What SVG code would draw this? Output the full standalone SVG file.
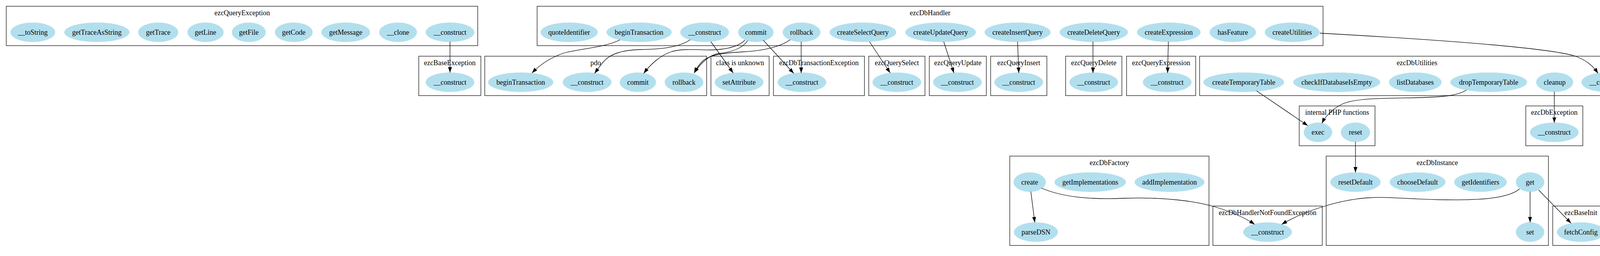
<svg xmlns="http://www.w3.org/2000/svg" width="4199" height="656" viewBox="0 0 4199 656">
<style>
.cl{fill:none;stroke:#222;stroke-width:1.4}
.n{fill:#b2dfee;stroke:#b2dfee;stroke-width:1}
text{font-family:"Liberation Serif","Times New Roman",serif;font-size:18px;text-anchor:middle;fill:#000}
.e{fill:none;stroke:#000;stroke-width:1.3;marker-end:url(#arr)}
</style>
<defs>
<marker id="arr" markerUnits="userSpaceOnUse" markerWidth="14" markerHeight="10" refX="14" refY="5" orient="auto">
<path d="M0,0 L14,5 L0,10 z" fill="#000"/>
</marker>
</defs>
<rect width="4199" height="656" fill="#fff"/>

<g id="ezcQueryException">
<rect class="cl" x="16" y="16" width="1207" height="101"/>
<text x="620" y="38.7">ezcQueryException</text>
<ellipse class="n" cx="84" cy="82.7" rx="57" ry="24.5"/><text x="84" y="88.7">__toString</text>
<ellipse class="n" cx="248" cy="82.7" rx="83" ry="24.5"/><text x="248" y="88.7">getTraceAsString</text>
<ellipse class="n" cx="405" cy="82.7" rx="51" ry="24.5"/><text x="405" y="88.7">getTrace</text>
<ellipse class="n" cx="526" cy="82.7" rx="46" ry="24.5"/><text x="526" y="88.7">getLine</text>
<ellipse class="n" cx="637" cy="82.7" rx="43" ry="24.5"/><text x="637" y="88.7">getFile</text>
<ellipse class="n" cx="752" cy="82.7" rx="48" ry="24.5"/><text x="752" y="88.7">getCode</text>
<ellipse class="n" cx="885" cy="82.7" rx="62" ry="24.5"/><text x="885" y="88.7">getMessage</text>
<ellipse class="n" cx="1019" cy="82.7" rx="48" ry="24.5"/><text x="1019" y="88.7">__clone</text>
<ellipse class="n" cx="1152" cy="82.7" rx="62" ry="24.5"/><text x="1152" y="88.7">__construct</text>
</g>

<g id="ezcDbHandler">
<rect class="cl" x="1375" y="16" width="2012" height="101"/>
<text x="2381" y="38.7">ezcDbHandler</text>
<ellipse class="n" cx="1457" cy="82.7" rx="73" ry="24.5"/><text x="1457" y="88.7">quoteIdentifier</text>
<ellipse class="n" cx="1636" cy="82.7" rx="83" ry="24.5"/><text x="1636" y="88.7">beginTransaction</text>
<ellipse class="n" cx="1804" cy="82.7" rx="62" ry="24.5"/><text x="1804" y="88.7">__construct</text>
<ellipse class="n" cx="1935" cy="82.7" rx="45" ry="24.5"/><text x="1935" y="88.7">commit</text>
<ellipse class="n" cx="2052" cy="82.7" rx="48" ry="24.5"/><text x="2052" y="88.7">rollback</text>
<ellipse class="n" cx="2209" cy="82.7" rx="85" ry="24.5"/><text x="2209" y="88.7">createSelectQuery</text>
<ellipse class="n" cx="2408" cy="82.7" rx="90" ry="24.5"/><text x="2408" y="88.7">createUpdateQuery</text>
<ellipse class="n" cx="2605" cy="82.7" rx="84" ry="24.5"/><text x="2605" y="88.7">createInsertQuery</text>
<ellipse class="n" cx="2800" cy="82.7" rx="87" ry="24.5"/><text x="2800" y="88.7">createDeleteQuery</text>
<ellipse class="n" cx="2992" cy="82.7" rx="81" ry="24.5"/><text x="2992" y="88.7">createExpression</text>
<ellipse class="n" cx="3156" cy="82.7" rx="59" ry="24.5"/><text x="3156" y="88.7">hasFeature</text>
<ellipse class="n" cx="3308" cy="82.7" rx="70" ry="24.5"/><text x="3308" y="88.7">createUtilities</text>
</g>

<g id="ezcBaseException">
<rect class="cl" x="1072" y="144" width="159" height="101"/>
<text x="1151.5" y="166.7">ezcBaseException</text>
<ellipse class="n" cx="1152" cy="210.7" rx="62" ry="24.5"/><text x="1152" y="216.7">__construct</text>
</g>

<g id="pdo">
<rect class="cl" x="1241" y="144" width="568" height="101"/>
<text x="1525" y="166.7">pdo</text>
<ellipse class="n" cx="1333" cy="210.7" rx="83" ry="24.5"/><text x="1333" y="216.7">beginTransaction</text>
<ellipse class="n" cx="1503" cy="210.7" rx="62" ry="24.5"/><text x="1503" y="216.7">__construct</text>
<ellipse class="n" cx="1633" cy="210.7" rx="46" ry="24.5"/><text x="1633" y="216.7">commit</text>
<ellipse class="n" cx="1751" cy="210.7" rx="49" ry="24.5"/><text x="1751" y="216.7">rollback</text>
</g>

<g id="classIsUnknown">
<rect class="cl" x="1820" y="144" width="149" height="101"/>
<text x="1894.5" y="166.7">class is unknown</text>
<ellipse class="n" cx="1892" cy="210.7" rx="62" ry="24.5"/><text x="1892" y="216.7">setAttribute</text>
</g>

<g id="ezcDbTransactionException">
<rect class="cl" x="1980" y="144" width="233" height="101"/>
<text x="2096.5" y="166.7">ezcDbTransactionException</text>
<ellipse class="n" cx="2053" cy="210.7" rx="62" ry="24.5"/><text x="2053" y="216.7">__construct</text>
</g>

<g id="ezcQuerySelect">
<rect class="cl" x="2224" y="144" width="144" height="101"/>
<text x="2296" y="166.7">ezcQuerySelect</text>
<ellipse class="n" cx="2296" cy="210.7" rx="62" ry="24.5"/><text x="2296" y="216.7">__construct</text>
</g>

<g id="ezcQueryUpdate">
<rect class="cl" x="2379" y="144" width="146" height="101"/>
<text x="2452" y="166.7">ezcQueryUpdate</text>
<ellipse class="n" cx="2451" cy="210.7" rx="62" ry="24.5"/><text x="2451" y="216.7">__construct</text>
</g>

<g id="ezcQueryInsert">
<rect class="cl" x="2536" y="144" width="144" height="101"/>
<text x="2608" y="166.7">ezcQueryInsert</text>
<ellipse class="n" cx="2608" cy="210.7" rx="62" ry="24.5"/><text x="2608" y="216.7">__construct</text>
</g>

<g id="ezcQueryDelete">
<rect class="cl" x="2728" y="144" width="144" height="101"/>
<text x="2800" y="166.7">ezcQueryDelete</text>
<ellipse class="n" cx="2800" cy="210.7" rx="62" ry="24.5"/><text x="2800" y="216.7">__construct</text>
</g>

<g id="ezcQueryExpression">
<rect class="cl" x="2884" y="144" width="177" height="101"/>
<text x="2972.5" y="166.7">ezcQueryExpression</text>
<ellipse class="n" cx="2988" cy="210.7" rx="62" ry="24.5"/><text x="2988" y="216.7">__construct</text>
</g>

<g id="ezcDbUtilities">
<rect class="cl" x="3071" y="144" width="1113" height="101"/>
<text x="3627.5" y="166.7">ezcDbUtilities</text>
<ellipse class="n" cx="3184" cy="210.7" rx="103" ry="24.5"/><text x="3184" y="216.7">createTemporaryTable</text>
<ellipse class="n" cx="3422" cy="210.7" rx="111" ry="24.5"/><text x="3422" y="216.7">checkIfDatabaseIsEmpty</text>
<ellipse class="n" cx="3623" cy="210.7" rx="67" ry="24.5"/><text x="3623" y="216.7">listDatabases</text>
<ellipse class="n" cx="3811" cy="210.7" rx="98" ry="24.5"/><text x="3811" y="216.7">dropTemporaryTable</text>
<ellipse class="n" cx="3980" cy="210.7" rx="47" ry="24.5"/><text x="3980" y="216.7">cleanup</text>
<ellipse class="n" cx="4111" cy="210.7" rx="62" ry="24.5"/><text x="4111" y="216.7">__construct</text>
</g>

<g id="internalPHPFunctions">
<rect class="cl" x="3326" y="271.5" width="194" height="102"/>
<text x="3423" y="294.2">internal PHP functions</text>
<ellipse class="n" cx="3374" cy="339" rx="36" ry="24.5"/><text x="3374" y="345">exec</text>
<ellipse class="n" cx="3470" cy="339" rx="37" ry="24.5"/><text x="3470" y="345">reset</text>
</g>

<g id="ezcDbException">
<rect class="cl" x="3906" y="271.5" width="146" height="102"/>
<text x="3979" y="294.2">ezcDbException</text>
<ellipse class="n" cx="3979" cy="339" rx="62" ry="24.5"/><text x="3979" y="345">__construct</text>
</g>

<g id="ezcDbFactory">
<rect class="cl" x="2585" y="400" width="510" height="229"/>
<text x="2840" y="422.7">ezcDbFactory</text>
<ellipse class="n" cx="2636" cy="466.7" rx="41" ry="24.5"/><text x="2636" y="472.7">create</text>
<ellipse class="n" cx="2791" cy="466.7" rx="91" ry="24.5"/><text x="2791" y="472.7">getImplementations</text>
<ellipse class="n" cx="2994" cy="466.7" rx="89" ry="24.5"/><text x="2994" y="472.7">addImplementation</text>
<ellipse class="n" cx="2652" cy="594.7" rx="56" ry="24.5"/><text x="2652" y="600.7">parseDSN</text>
</g>

<g id="ezcDbHandlerNotFoundException">
<rect class="cl" x="3105" y="528" width="280" height="101"/>
<text x="3245" y="550.7">ezcDbHandlerNotFoundException</text>
<ellipse class="n" cx="3245" cy="594.7" rx="62" ry="24.5"/><text x="3245" y="600.7">__construct</text>
</g>

<g id="ezcDbInstance">
<rect class="cl" x="3395" y="400" width="569" height="229"/>
<text x="3679.5" y="422.7">ezcDbInstance</text>
<ellipse class="n" cx="3470" cy="466.7" rx="64" ry="24.5"/><text x="3470" y="472.7">resetDefault</text>
<ellipse class="n" cx="3629" cy="466.7" rx="71" ry="24.5"/><text x="3629" y="472.7">chooseDefault</text>
<ellipse class="n" cx="3790" cy="466.7" rx="67" ry="24.5"/><text x="3790" y="472.7">getIdentifiers</text>
<ellipse class="n" cx="3917" cy="466.7" rx="36" ry="24.5"/><text x="3917" y="472.7">get</text>
<ellipse class="n" cx="3917" cy="594.7" rx="36" ry="24.5"/><text x="3917" y="600.7">set</text>
</g>

<g id="ezcBaseInit">
<rect class="cl" x="3975" y="528" width="144" height="101"/>
<text x="4047" y="550.7">ezcBaseInit</text>
<ellipse class="n" cx="4047" cy="594.7" rx="61" ry="24.5"/><text x="4047" y="600.7">fetchConfig</text>
</g>

<g id="connectors">
<path class="e" d="M1152,107 L1152,186"/>
<path class="e" d="M1587,102 C1550,122 1480,125 1440,137 C1405,150 1380,168 1362,187"/>
<path class="e" d="M1767,102 C1740,120 1700,126 1640,127 C1590,128 1560,140 1545,158 C1535,170 1528,180 1522,188"/>
<path class="e" d="M1820,107 L1877,187"/>
<path class="e" d="M1907,103 C1890,120 1860,127 1820,128 C1780,128 1750,124 1720,132 C1690,142 1665,165 1648,188"/>
<path class="e" d="M1914,104 C1900,125 1870,134 1840,137 C1815,141 1795,160 1777,187"/>
<path class="e" d="M2023,102 C2000,118 1960,130 1900,133 C1850,136 1820,140 1800,155 C1790,165 1782,177 1777,187"/>
<path class="e" d="M1954,103 L2032,188"/>
<path class="e" d="M2051,107 L2051,187"/>
<path class="e" d="M2226,107 L2279,187"/>
<path class="e" d="M2416,107 L2442,187"/>
<path class="e" d="M2605,107 L2608,187"/>
<path class="e" d="M2798,107 L2798,187"/>
<path class="e" d="M2991,107 L2989,187"/>
<path class="e" d="M3379,85 C3650,100 3950,120 4030,143 C4065,155 4080,172 4091,188"/>
<path class="e" d="M3217,233 L3348,322"/>
<path class="e" d="M3754,231 C3730,245 3700,248 3640,250 C3560,252 3480,250 3440,265 C3410,278 3392,300 3384,316"/>
<path class="e" d="M3979,235 L3979,314.5"/>
<path class="e" d="M3470,363.5 L3470,442"/>
<path class="e" d="M2639,491 L2649,570"/>
<path class="e" d="M2666,482 C2720,505 2790,512 2880,508 C2980,505 3060,515 3110,530 C3160,545 3190,560 3212,575"/>
<path class="e" d="M3890,484 C3860,510 3780,513 3700,512 C3600,511 3560,503 3500,507 C3420,513 3330,545 3281,575"/>
<path class="e" d="M3917,491 L3917,570"/>
<path class="e" d="M3939,487 L4022,572"/>
</g>
</svg>
